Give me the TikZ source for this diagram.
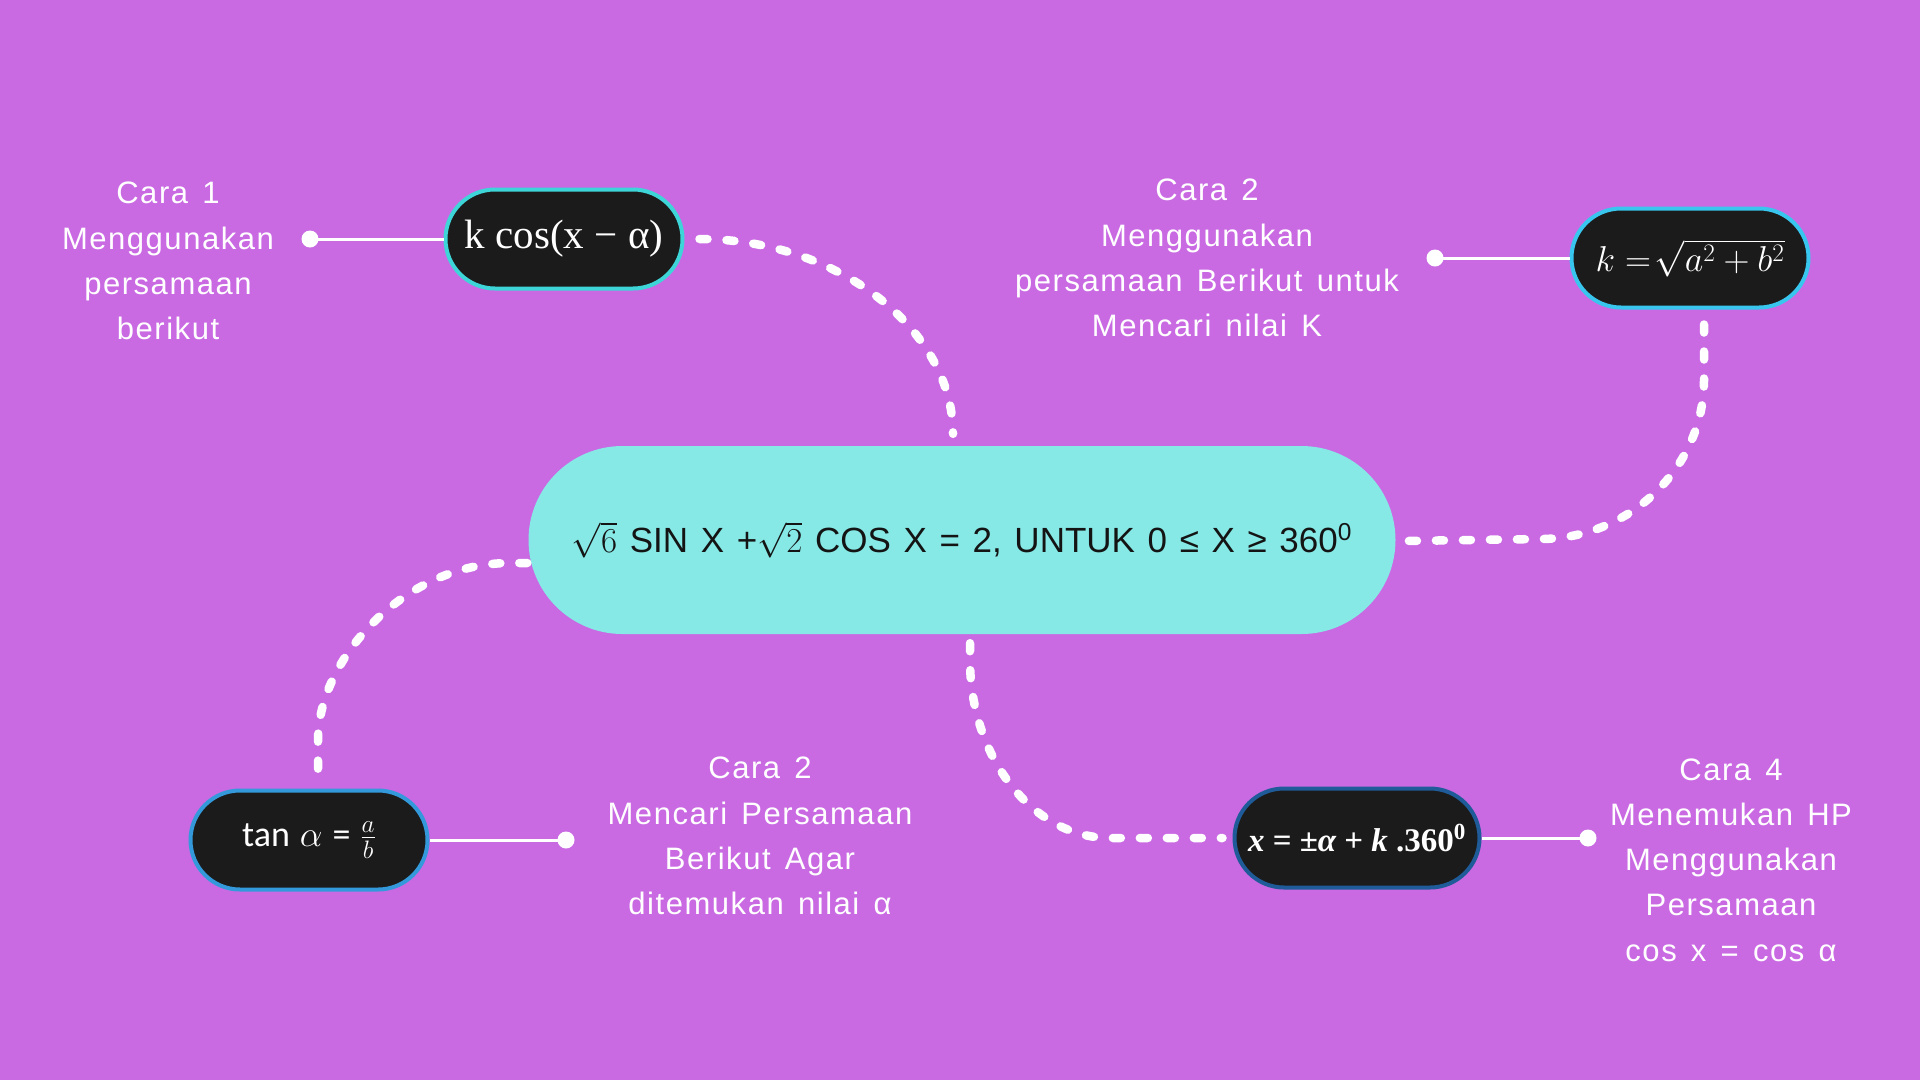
\RequirePackage{fix-cm}
\documentclass[tikz,border=0pt]{standalone}
\usepackage[no-math]{fontspec}
\setmainfont{Liberation Sans}
\newfontfamily\labfont[LetterSpace=5,WordSpace=1.4]{Liberation Sans}
\newfontfamily\cenfont[WordSpace=1.3]{Liberation Sans}
\newfontfamily\serfont{Liberation Serif}
\newfontfamily\carlito{Carlito}
\usetikzlibrary{shapes.misc}
\definecolor{bg}{HTML}{C96AE3}
\definecolor{cen}{HTML}{86E9E6}
\definecolor{nfill}{HTML}{1B1B1B}
\definecolor{bkc}{HTML}{3DD5D8}
\definecolor{bk}{HTML}{38C6EE}
\definecolor{bt}{HTML}{3399DB}
\definecolor{bx}{HTML}{1F5B98}
\definecolor{ink}{HTML}{141414}
\tikzset{
  centre/.style={rounded rectangle, fill=cen, minimum width=867pt, minimum height=188pt, inner sep=0pt, text=ink,
    font=\cenfont\fontsize{35}{40}\selectfont},
  pill/.style={rounded rectangle, draw, line width=4pt, fill=nfill, minimum width=237pt, minimum height=99pt, inner sep=0pt, text=white},
  lab/.style={align=center, text=white, inner sep=0pt, font=\labfont\fontsize{31}{45.3}\selectfont},
  dotnode/.style={circle, fill=white, minimum size=17pt, inner sep=0pt},
  link/.style={draw=white, line width=3pt},
  dots/.style={draw=white, line width=8.5pt, line cap=round, dash pattern=on 8pt off 19pt}
}
\begin{document}
\begin{tikzpicture}[x=1pt,y=-1pt]
\fill[bg] (0,0) rectangle (1920,1080);
\useasboundingbox (0,0) rectangle (1920,1080);

% nodes
\node[centre] (c) at (962,540) {$\sqrt{6}$ SIN X +$\sqrt{2}$ COS X = 2, UNTUK 0 ≤ X ≥ 360\textsuperscript{0}};
\node[pill, draw=bkc] (kc) at (564,239) {\serfont\fontsize{41}{44}\selectfont k cos(x − α)};
\node[pill, draw=bk] (kn) at (1690,258) {\fontsize{36}{40}\selectfont $k =\!\sqrt{a^2+b^2}$};
\node[pill, draw=bt] (tn) at (309,840) {\fontsize{36}{40}\selectfont {\carlito tan} $\alpha$ {\carlito =} $\frac{a}{b}$};
\node[pill, draw=bx, minimum width=245pt] (xe) at (1357,838) {\serfont\bfseries\fontsize{33}{40}\selectfont {\itshape x} = ±{\itshape α} + {\itshape k} .360\textsuperscript{0}};

% labels
\node[lab] (l1) at (168,261) {Cara 1\\Menggunakan\\persamaan\\berikut};
\node[lab] (l2) at (1207,258) {Cara 2\\Menggunakan\\persamaan Berikut untuk\\Mencari nilai K};
\node[lab] (l3) at (760,836) {Cara 2\\Mencari Persamaan\\Berikut Agar\\ditemukan nilai α};
\node[lab] (l4) at (1731,860) {Cara 4\\Menemukan HP\\Menggunakan\\Persamaan\\cos x = cos α};

% dots and solid links
\node[dotnode] (d1) at (310,239) {};
\node[dotnode] (d2) at (1435,258) {};
\node[dotnode] (d3) at (566,840) {};
\node[dotnode] (d4) at (1588,838) {};
\draw[link] (kc.west) -- (d1.center);
\draw[link] (kn.west) -- (d2.center);
\draw[link] (tn.east) -- (d3.center);
\draw[link] (xe.east) -- (d4.center);

% dashed connectors
\coordinate (s1) at ([xshift=15pt]kc.east);
\coordinate (e1) at ([xshift=-9pt,yshift=12pt]c.north);
\draw[dots] (s1) .. controls (838,239) and (953,330) .. (e1);

\coordinate (s2) at ([xshift=14pt,yshift=-15pt]kn.south);
\coordinate (e2) at ([xshift=7pt,yshift=-1pt]c.east);
\draw[dots] (s2) -- (1704,380) .. controls (1704,467) and (1630,539) .. (1540,539) -- (e2);

\coordinate (s3) at ([xshift=-1pt,yshift=-23pt]c.west);
\coordinate (e3) at ([xshift=9pt,yshift=12pt]tn.north);
\draw[dots] (s3) -- (510,563) .. controls (404,563) and (318,660) .. (318,740) -- (e3);

\coordinate (s4) at ([xshift=8pt,yshift=-9pt]c.south);
\coordinate (e4) at ([xshift=-10pt]xe.west);
\draw[dots] (s4) -- (970,660) .. controls (970,757) and (1033,838) .. (1110,838) -- (e4);
\end{tikzpicture}
\end{document}
